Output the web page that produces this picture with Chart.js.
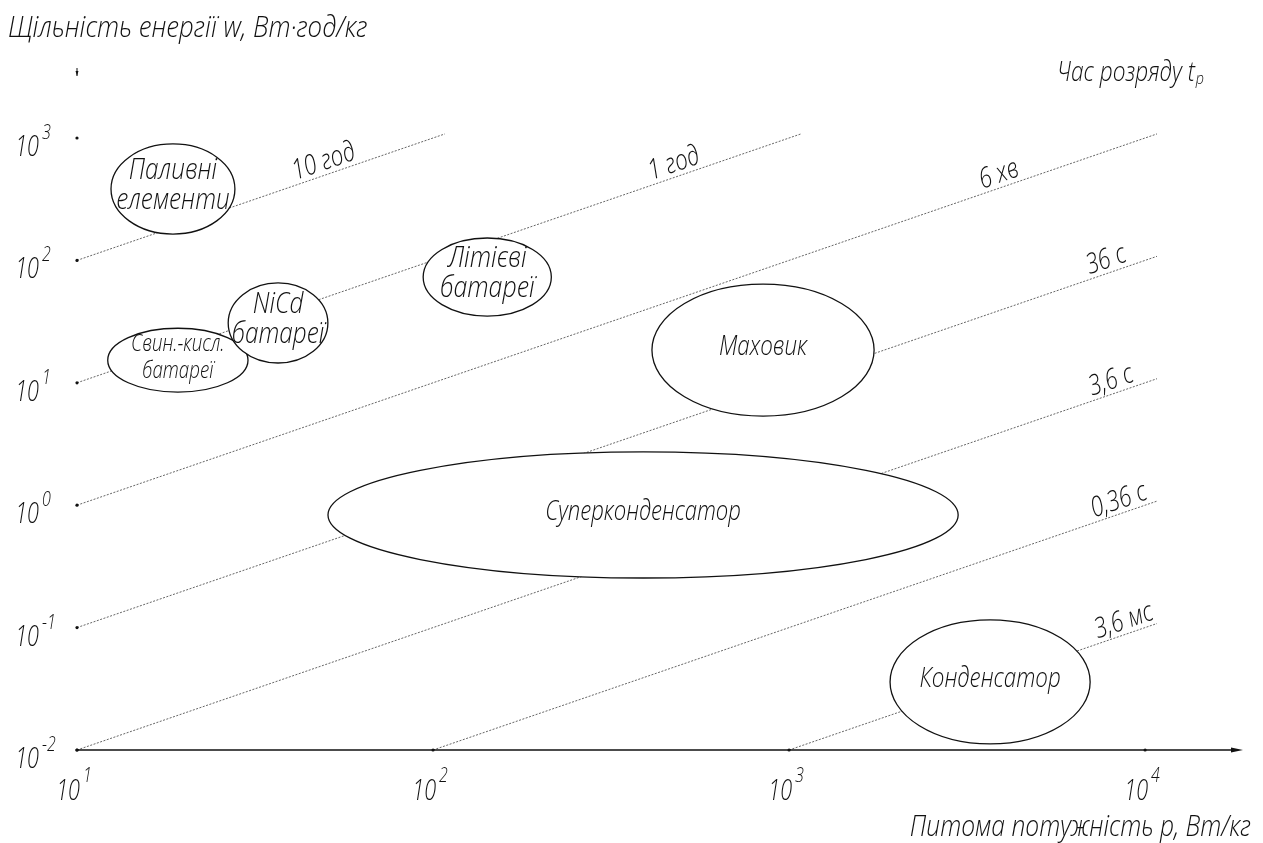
<!DOCTYPE html>
<html>
<head>
<meta charset="utf-8">
<script src="https://cdn.jsdelivr.net/npm/chart.js@4.4.1/dist/chart.umd.min.js"></script>
<style>
  html, body { margin: 0; padding: 0; background: #ffffff; }
  #wrap { width: 1263px; height: 843px; }
</style>
</head>
<body>
<div id="wrap"><canvas id="ragone" width="1263" height="843"></canvas></div>
<script>
// Axis decades (specific power p, W/kg; energy density w, Wh/kg)
const xTicks = [10, 100, 1000, 10000];
const yTicks = [0.01, 0.1, 1, 10, 100, 1000];

// Constant discharge-time lines: endpoints in (p, w)
const timeLabels = ['10 год', '1 год', '6 хв', '36 с', '3,6 с', '0,36 с', '3,6 мс'];
const timeStartP = [10, 10, 10, 10, 10, 100, 1000];
const timeStartW = [100, 10, 1, 0.1, 0.01, 0.01, 0.01];
const timeEndP = [108, 1080, 10800, 10800, 10800, 10800, 10800];
const timeEndW = [1080, 1080, 1080, 108, 10.8, 1.08, 0.108];
// where along each line its caption sits (p value)
const timeLabelP = [50.7, 488, 3990, 7980, 8240, 8670, 8950];

// Storage technologies: centre (p, w) and half-extent in decades
const techNames = [
  ['Паливні', 'елементи'],
  ['Свин.-кисл.', 'батареї'],
  ['NiCd', 'батареї'],
  ['Літієві', 'батареї'],
  ['Маховик'],
  ['Суперконденсатор'],
  ['Конденсатор']
];
const techP = [18.6, 19.2, 36.7, 142, 845, 389, 3670];
const techW = [383, 15.3, 30.8, 73.1, 18.5, 0.832, 0.036];
const techSpanP = [0.174, 0.197, 0.140, 0.180, 0.312, 0.885, 0.281];
const techSpanW = [0.368, 0.261, 0.327, 0.319, 0.539, 0.515, 0.507];

// caption styling for each region: font size and horizontal squeeze
const techFont = [
  {size: 29, sx: 0.84, lh: 30},
  {size: 24, sx: 0.78, lh: 27},
  {size: 29, sx: 0.84, lh: 30},
  {size: 29, sx: 0.86, lh: 30},
  {size: 28, sx: 0.8, lh: 30},
  {size: 28, sx: 0.79, lh: 30},
  {size: 28, sx: 0.8, lh: 30}
];

const FONT_FAMILY = '"Open Sans", "DejaVu Sans", sans-serif';
const NARROW = 0.8;
const WEIGHT = 300;

function drawText(ctx, s, x, y, o) {
  o = o || {};
  const sx = o.sx || NARROW;
  ctx.save();
  ctx.translate(x, y);
  if (o.angle) ctx.rotate(o.angle);
  ctx.scale(sx, 1);
  ctx.font = 'italic ' + (o.weight || WEIGHT) + ' ' + (o.size || 20) + 'px ' + FONT_FAMILY;
  ctx.fillStyle = '#111';
  ctx.textAlign = o.align || 'left';
  ctx.textBaseline = o.baseline || 'alphabetic';
  ctx.fillText(s, 0, 0);
  const w = ctx.measureText(s).width * sx;
  ctx.restore();
  return w;
}

const expText = {0.01: '-2', 0.1: '-1', 1: '0', 10: '1', 100: '2', 1000: '3', 10000: '4'};

const ragonePlugin = {
  id: 'ragone',
  afterDatasetsDraw(chart) {
    const ctx = chart.ctx;
    const xs = chart.scales.x, ys = chart.scales.y;
    const area = chart.chartArea;
    const y0 = ys.getPixelForValue(yTicks[0]);
    const x0 = xs.getPixelForValue(xTicks[0]);

    // horizontal axis with arrow
    ctx.save();
    ctx.strokeStyle = '#111';
    ctx.lineWidth = 1.5;
    ctx.beginPath();
    ctx.moveTo(x0, y0);
    ctx.lineTo(area.right - 8, y0);
    ctx.stroke();
    ctx.fillStyle = '#111';
    ctx.beginPath();
    ctx.moveTo(area.right, y0);
    ctx.lineTo(area.right - 12, y0 - 2.5);
    ctx.lineTo(area.right - 12, y0 + 2.5);
    ctx.closePath();
    ctx.fill();

    // vertical axis marker at the top
    ctx.beginPath();
    ctx.moveTo(x0, area.top + 9);
    ctx.lineTo(x0 - 1.5, area.top + 4);
    ctx.lineTo(x0 + 1.5, area.top + 4);
    ctx.closePath();
    ctx.fill();
    ctx.lineWidth = 1;
    ctx.beginPath();
    ctx.moveTo(x0, area.top + 1);
    ctx.lineTo(x0, area.top + 9);
    ctx.stroke();

    // decade dots
    yTicks.forEach(v => {
      ctx.beginPath();
      ctx.arc(x0, ys.getPixelForValue(v), 1.6, 0, Math.PI * 2);
      ctx.fill();
    });
    xTicks.forEach(v => {
      ctx.beginPath();
      ctx.arc(xs.getPixelForValue(v), y0, 1.6, 0, Math.PI * 2);
      ctx.fill();
    });
    ctx.restore();

    // storage technology regions
    techP.forEach((p, i) => {
      const cx = xs.getPixelForValue(p);
      const cy = ys.getPixelForValue(techW[i]);
      const rx = xs.getPixelForValue(p * Math.pow(10, techSpanP[i])) - cx;
      const ry = cy - ys.getPixelForValue(techW[i] * Math.pow(10, techSpanW[i]));
      ctx.save();
      ctx.beginPath();
      ctx.ellipse(cx, cy, rx, ry, 0, 0, Math.PI * 2);
      ctx.fillStyle = '#ffffff';
      ctx.fill();
      ctx.strokeStyle = '#111';
      ctx.lineWidth = 1.3;
      ctx.stroke();
      ctx.restore();
      const lines = techNames[i];
      const f = techFont[i];
      lines.forEach((s, k) => {
        const yy = cy - 3 + (k - (lines.length - 1) / 2) * f.lh;
        drawText(ctx, s, cx, yy, {size: f.size, sx: f.sx, align: 'center', baseline: 'middle'});
      });
    });

    // captions of the discharge-time lines
    timeLabels.forEach((s, i) => {
      const ax = xs.getPixelForValue(timeStartP[i]), ay = ys.getPixelForValue(timeStartW[i]);
      const bx = xs.getPixelForValue(timeEndP[i]), by = ys.getPixelForValue(timeEndW[i]);
      const lx = xs.getPixelForValue(timeLabelP[i]);
      const t = (lx - ax) / (bx - ax);
      const ly = ay + t * (by - ay);
      const ang = Math.atan2(by - ay, bx - ax);
      ctx.save();
      ctx.translate(lx, ly);
      ctx.rotate(ang);
      drawText(ctx, s, 0, -5, {size: 28, sx: 0.8, align: 'center'});
      ctx.restore();
    });

    // decade labels, 10 with a raised exponent
    yTicks.forEach(v => {
      const py = ys.getPixelForValue(v);
      drawText(ctx, '10', 39, py + 18, {size: 30, sx: 0.72, align: 'right'});
      drawText(ctx, expText[v], 42, py + 1, {size: 20, sx: 0.8});
    });
    xTicks.forEach(v => {
      const px = xs.getPixelForValue(v);
      drawText(ctx, '10', px + 3, y0 + 50, {size: 30, sx: 0.72, align: 'right'});
      drawText(ctx, expText[v], px + 6, y0 + 32, {size: 20, sx: 0.8});
    });

    // axis titles
    drawText(ctx, 'Щільність енергії w, Вт·год/кг', 8, 37, {size: 30, sx: 0.86});
    drawText(ctx, 'Питома потужність p, Вт/кг', 1251, 836, {size: 30, sx: 0.82, align: 'right'});
    const tw = drawText(ctx, 'Час розряду t', 1057, 81, {size: 27, sx: 0.84});
    drawText(ctx, 'р', 1057 + tw + 1, 84, {size: 16, sx: 0.9});
  }
};

const lineSets = timeLabels.map((s, i) => ({
  label: s,
  data: [{x: timeStartP[i], y: timeStartW[i]}, {x: timeEndP[i], y: timeEndW[i]}],
  showLine: true,
  borderColor: '#555555',
  borderWidth: 0.9,
  borderDash: [2, 1.5],
  pointRadius: 0,
  fill: false
}));

new Chart(document.getElementById('ragone'), {
  type: 'scatter',
  data: { datasets: lineSets },
  options: {
    responsive: false,
    devicePixelRatio: 1,
    animation: false,
    layout: { padding: { left: 77, right: 20, top: 67, bottom: 93 } },
    plugins: { legend: { display: false }, tooltip: { enabled: false } },
    scales: {
      x: { type: 'logarithmic', min: 10, max: 18836, display: false },
      y: { type: 'logarithmic', min: 0.01, max: 3802, display: false }
    }
  },
  plugins: [ragonePlugin]
});
</script>
</body>
</html>
